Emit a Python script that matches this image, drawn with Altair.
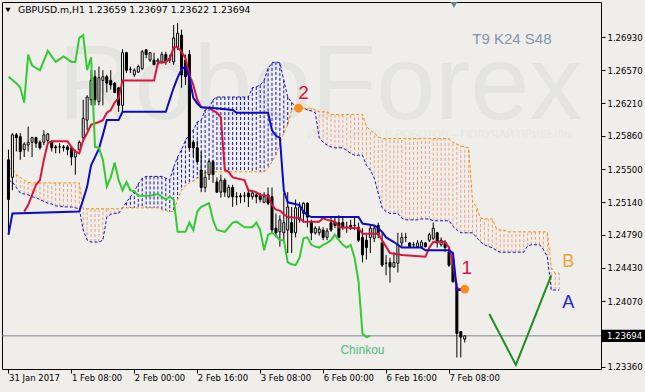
import altair as alt
import pandas as pd

BG = "#EFEEEA"

# ---------------- axis texts ----------------
y_ticks = [1.26930, 1.26570, 1.26210, 1.25860, 1.25500, 1.25140, 1.24790, 1.24430, 1.24070, 1.23360]
x_tick_idx = [0, 16, 32, 48, 64, 80, 96, 112]
x_tick_labels = ["31 Jan 2017", "1 Feb 08:00", "2 Feb 00:00", "2 Feb 16:00",
                 "3 Feb 08:00", "6 Feb 00:00", "6 Feb 16:00", "7 Feb 08:00"]
last_price = 1.23694
header = "GBPUSD.m,H1  1.23659 1.23697 1.23622 1.23694"

# ---------------- candles (H1 bars) ----------------
opens = [1.2560, 1.2541, 1.2587, 1.2585, 1.2571, 1.2576, 1.2579, 1.2584, 1.2579, 1.2579,
         1.2581, 1.2580, 1.2574, 1.2574, 1.2574, 1.2574, 1.2573, 1.2563, 1.2571, 1.2584,
         1.2603, 1.2625, 1.2650, 1.2623, 1.2646, 1.2650, 1.2646, 1.2643, 1.2638, 1.2619,
         1.2676, 1.2658, 1.2652, 1.2655, 1.2659, 1.2679, 1.2668, 1.2668, 1.2666, 1.2666,
         1.2674, 1.2668, 1.2666, 1.2682, 1.2695, 1.2668, 1.2674, 1.2579, 1.2573, 1.2549,
         1.2530, 1.2544, 1.2558, 1.2536, 1.2525, 1.2538, 1.2520, 1.2530, 1.2520, 1.2521,
         1.2521, 1.2524, 1.2520, 1.2522, 1.2521, 1.2514, 1.2522, 1.2520, 1.2486, 1.2482,
         1.2481, 1.2484, 1.2492, 1.2481, 1.2495, 1.2502, 1.2513, 1.2492, 1.2481, 1.2481,
         1.2484, 1.2476, 1.2492, 1.2493, 1.2492, 1.2492, 1.2487, 1.2489, 1.2489, 1.2487,
         1.2476, 1.2473, 1.2476, 1.2475, 1.2489, 1.2470, 1.2448, 1.2449, 1.2444, 1.2448,
         1.2470, 1.2476, 1.2470, 1.2468, 1.2466, 1.2466, 1.2470, 1.2473, 1.2475, 1.2481,
         1.2468, 1.2471, 1.2460, 1.2452, 1.2422, 1.2374, 1.23659]
highs = [1.2571, 1.2589, 1.2589, 1.2589, 1.2579, 1.2596, 1.2585, 1.2585, 1.2581, 1.2592,
         1.2589, 1.2581, 1.2576, 1.2578, 1.2576, 1.2576, 1.2574, 1.2571, 1.2581, 1.2625,
         1.2630, 1.2657, 1.2657, 1.2661, 1.2657, 1.2652, 1.2657, 1.2644, 1.2639, 1.2680,
         1.2677, 1.2661, 1.2659, 1.2663, 1.2679, 1.2680, 1.2677, 1.2676, 1.2670, 1.2677,
         1.2677, 1.2674, 1.2706, 1.2708, 1.2701, 1.2674, 1.2679, 1.2581, 1.2581, 1.2569,
         1.2547, 1.2560, 1.2560, 1.2541, 1.2544, 1.2540, 1.2533, 1.2533, 1.2525, 1.2524,
         1.2525, 1.2527, 1.2527, 1.2524, 1.2524, 1.2525, 1.2530, 1.2530, 1.2502, 1.2500,
         1.2524, 1.2525, 1.2509, 1.2517, 1.2514, 1.2514, 1.2514, 1.2495, 1.2488, 1.2488,
         1.2487, 1.2486, 1.2497, 1.2498, 1.2500, 1.2497, 1.2493, 1.2495, 1.2497, 1.2492,
         1.2486, 1.2479, 1.2489, 1.2489, 1.2492, 1.2482, 1.2457, 1.2454, 1.2460, 1.2481,
         1.2481, 1.2481, 1.2471, 1.2471, 1.2473, 1.2473, 1.2471, 1.2481, 1.2492, 1.2482,
         1.2476, 1.2473, 1.2466, 1.2454, 1.2427, 1.2374, 1.23697]
lows = [1.2479, 1.2527, 1.2569, 1.2560, 1.2563, 1.2569, 1.2563, 1.2573, 1.2571, 1.2576,
        1.2579, 1.2569, 1.2567, 1.2567, 1.2569, 1.2565, 1.2554, 1.2544, 1.2569, 1.2581,
        1.2592, 1.2619, 1.2619, 1.2619, 1.2619, 1.2633, 1.2636, 1.2632, 1.2612, 1.2612,
        1.2654, 1.2654, 1.2650, 1.2654, 1.2657, 1.2670, 1.2666, 1.2663, 1.2663, 1.2664,
        1.2663, 1.2665, 1.2663, 1.2679, 1.2638, 1.2641, 1.2571, 1.2563, 1.2557, 1.2525,
        1.2525, 1.2538, 1.2535, 1.2524, 1.2519, 1.2520, 1.2519, 1.2509, 1.2511, 1.2513,
        1.2514, 1.2509, 1.2517, 1.2513, 1.2514, 1.2513, 1.2511, 1.2481, 1.2476, 1.2466,
        1.2473, 1.2459, 1.2459, 1.2476, 1.2492, 1.2492, 1.2487, 1.2473, 1.2479, 1.2478,
        1.2473, 1.2473, 1.2482, 1.2486, 1.2475, 1.2484, 1.2481, 1.2484, 1.2484, 1.2471,
        1.2449, 1.2452, 1.2459, 1.2471, 1.2475, 1.2444, 1.2435, 1.2427, 1.2443, 1.2438,
        1.2466, 1.2471, 1.2465, 1.2465, 1.2465, 1.2465, 1.2465, 1.2471, 1.2473, 1.2465,
        1.2466, 1.2460, 1.2444, 1.2427, 1.2346, 1.2346, 1.23622]
closes = [1.2517, 1.2587, 1.2584, 1.2569, 1.2577, 1.2579, 1.2584, 1.2578, 1.2573, 1.2587,
          1.2588, 1.2573, 1.2573, 1.2574, 1.2573, 1.2571, 1.2563, 1.2569, 1.2579, 1.2605,
          1.2628, 1.2646, 1.2625, 1.2649, 1.2650, 1.2643, 1.2641, 1.2633, 1.2619, 1.2676,
          1.2657, 1.2658, 1.2657, 1.2661, 1.2677, 1.2674, 1.2676, 1.2663, 1.2668, 1.2674,
          1.2666, 1.2670, 1.2692, 1.2697, 1.2652, 1.2650, 1.2573, 1.2573, 1.2558, 1.2530,
          1.2541, 1.2558, 1.2544, 1.2525, 1.2538, 1.2525, 1.2530, 1.2520, 1.2520, 1.2520,
          1.2521, 1.2520, 1.2524, 1.2520, 1.2517, 1.2520, 1.2513, 1.2484, 1.2481, 1.2495,
          1.2492, 1.2509, 1.2481, 1.2508, 1.2509, 1.2513, 1.2498, 1.2481, 1.2486, 1.2485,
          1.2476, 1.2483, 1.2484, 1.2489, 1.2476, 1.2487, 1.2487, 1.2486, 1.2489, 1.2473,
          1.2457, 1.2465, 1.2486, 1.2486, 1.2479, 1.2446, 1.2448, 1.2444, 1.2449, 1.2468,
          1.2476, 1.2476, 1.2466, 1.2468, 1.2470, 1.2471, 1.2466, 1.2479, 1.2486, 1.2470,
          1.2473, 1.2465, 1.2446, 1.2428, 1.2372, 1.2368, 1.23694]

# ---------------- Ichimoku lines (bar index, price) ----------------
tenkan_idx = [4, 5, 6, 7, 8, 9, 10, 11, 15, 16, 17, 18, 19, 20, 21, 23, 24, 25, 26, 27, 28, 29,
              37, 38, 40, 41, 42, 43, 44, 45, 46, 47, 48, 49, 51, 53, 54, 55, 56, 57, 60, 61,
              63, 64, 66, 67, 68, 69, 70, 71, 74, 75, 79, 80, 81, 83, 84, 89, 90, 94, 95, 96,
              97, 100, 106, 107, 108, 111, 112, 113, 114, 116]
tenkan_val = [1.2504, 1.2511, 1.2522, 1.2533, 1.2538, 1.2560, 1.2578, 1.2580, 1.2580, 1.2574,
              1.2569, 1.2567, 1.2581, 1.2589, 1.2598, 1.2601, 1.2603, 1.2611, 1.2614, 1.2622,
              1.2627, 1.2646, 1.2646, 1.2665, 1.2666, 1.2669, 1.2682, 1.2682, 1.2677, 1.2670,
              1.2652, 1.2641, 1.2625, 1.2617, 1.2616, 1.2611, 1.2606, 1.2549, 1.2547, 1.2541,
              1.2538, 1.2527, 1.2525, 1.2522, 1.2521, 1.2511, 1.2506, 1.2505, 1.2501, 1.2498,
              1.2497, 1.2493, 1.2493, 1.2497, 1.2495, 1.2493, 1.2487, 1.2486, 1.2480, 1.2480,
              1.2473, 1.2466, 1.2459, 1.2457, 1.2455, 1.2465, 1.2471, 1.2471, 1.2465, 1.2449,
              1.2420, 1.2420]

kijun_idx = [0, 1, 18, 19, 20, 21, 22, 23, 24, 25, 28, 29, 40, 41, 42, 43, 44, 45, 46, 47, 48,
             49, 52, 57, 58, 66, 67, 68, 69, 70, 71, 74, 75, 76, 77, 89, 90, 93, 94, 95, 96, 98,
             100, 105, 106, 112, 113, 114, 116]
kijun_val = [1.2479, 1.2502, 1.2504, 1.2517, 1.2531, 1.2554, 1.2563, 1.2572, 1.2587, 1.2603,
             1.2603, 1.2612, 1.2612, 1.2625, 1.2638, 1.2649, 1.2658, 1.2661, 1.2649, 1.2627,
             1.2621, 1.2617, 1.2616, 1.2614, 1.2611, 1.2611, 1.2592, 1.2586, 1.2584, 1.2527,
             1.2514, 1.2511, 1.2504, 1.2500, 1.2498, 1.2498, 1.2491, 1.2489, 1.2486, 1.2482,
             1.2476, 1.2471, 1.2465, 1.2465, 1.2462, 1.2462, 1.2459, 1.2419, 1.2419]

chikou_idx = [0, 2, 3, 4, 5, 6, 8, 10, 12, 14, 16, 17, 18, 19, 20, 21, 22, 23, 24, 25, 26, 27,
              28, 29, 30, 31, 32, 33, 36, 38, 40, 41, 42, 43, 45, 46, 47, 48, 49, 51, 52, 53,
              55, 57, 58, 60, 62, 63, 64, 65, 66, 67, 68, 69, 70, 71, 72, 73, 74, 75, 76, 77,
              78, 79, 80, 81, 82, 83, 84, 85, 86, 87, 88, 89, 90, 91, 92]
chikou_val = [1.2650, 1.2643, 1.2638, 1.2622, 1.2674, 1.2662, 1.2657, 1.2678, 1.2666, 1.2672,
              1.2666, 1.2666, 1.2692, 1.2695, 1.2657, 1.2671, 1.2574, 1.2573, 1.2560, 1.2531,
              1.2541, 1.2557, 1.2538, 1.2527, 1.2536, 1.2527, 1.2526, 1.2521, 1.2521, 1.2523,
              1.2517, 1.2520, 1.2517, 1.2482, 1.2482, 1.2492, 1.2484, 1.2504, 1.2509, 1.2513,
              1.2495, 1.2484, 1.2482, 1.2492, 1.2493, 1.2487, 1.2487, 1.2492, 1.2484, 1.2462,
              1.2479, 1.2481, 1.2478, 1.2473, 1.2473, 1.2449, 1.2447, 1.2446, 1.2454, 1.2475,
              1.2476, 1.2468, 1.2466, 1.2465, 1.2468, 1.2470, 1.2473, 1.2479, 1.2473, 1.2468,
              1.2465, 1.2468, 1.2454, 1.2428, 1.2372, 1.2368, 1.23694]

# Senkou spans, one value per bar (bars 0..140, shifted 24 bars ahead)
span_a = [
    1.2538, 1.2536, 1.2530, 1.2524, 1.2523, 1.2522, 1.2520, 1.2519, 1.2517, 1.2515,
    1.2513, 1.2512, 1.2510, 1.2510, 1.2509, 1.2509, 1.2509, 1.2508, 1.2507,
    1.2484, 1.2473, 1.2471, 1.2471, 1.2471, 1.2473, 1.2498, 1.2501, 1.2502, 1.2502,
    1.2508, 1.2514, 1.2520, 1.2526, 1.2534, 1.2540, 1.2542, 1.2542, 1.2542, 1.2542,
    1.2542, 1.2540, 1.2538,
    1.2552, 1.2563, 1.2571, 1.2581, 1.2588, 1.2592, 1.2601, 1.2603, 1.2614, 1.2616, 1.2625,
    1.2628, 1.2628, 1.2628, 1.2628, 1.2628, 1.2628, 1.2628, 1.2628, 1.2628,
    1.2638, 1.2639, 1.2641, 1.2646, 1.2659, 1.2665, 1.2666, 1.2665, 1.2646, 1.2628,
    1.2622, 1.2618, 1.2616, 1.2616, 1.2614, 1.2613, 1.2611,
    1.2584, 1.2579, 1.2576, 1.2574, 1.2573, 1.2573, 1.2573, 1.2570, 1.2567, 1.2565,
    1.2565, 1.2565, 1.2554, 1.2549, 1.2540, 1.2524, 1.2508, 1.2504, 1.2502, 1.2502, 1.2502,
    1.2497, 1.2495, 1.2495, 1.2495, 1.2495, 1.2496, 1.2496, 1.2496, 1.2494, 1.2494,
    1.2494, 1.2494, 1.2494,
    1.2488, 1.2484, 1.2481, 1.2481, 1.2481, 1.2481, 1.2476, 1.2471, 1.2468, 1.2466,
    1.2465, 1.2462,
    1.2460, 1.2460, 1.2460, 1.2460, 1.2460, 1.2460, 1.2460,
    1.2467, 1.2468, 1.2468, 1.2468, 1.2463, 1.2455, 1.2419, 1.2419, 1.2419]
span_b = [
    1.2551, 1.2550, 1.2544, 1.2541, 1.2538, 1.2536,
    1.2535, 1.2535, 1.2535, 1.2535, 1.2535, 1.2535, 1.2535, 1.2535, 1.2535, 1.2535,
    1.2535, 1.2535, 1.2535,
    1.2507, 1.2507, 1.2507, 1.2507, 1.2507, 1.2507, 1.2507, 1.2507, 1.2507, 1.2507,
    1.2508, 1.2508, 1.2508, 1.2508, 1.2508, 1.2508, 1.2508, 1.2508, 1.2508, 1.2508,
    1.2506, 1.2505, 1.2504, 1.2504,
    1.2517, 1.2527, 1.2532, 1.2535, 1.2537, 1.2540, 1.2542, 1.2546,
    1.2547, 1.2547, 1.2547, 1.2547, 1.2547, 1.2547, 1.2547, 1.2547, 1.2547, 1.2547,
    1.2547, 1.2547, 1.2547, 1.2547, 1.2547,
    1.2551, 1.2558, 1.2565, 1.2578, 1.2589, 1.2598, 1.2614,
    1.2616, 1.2616, 1.2616, 1.2616, 1.2616,
    1.2614,
    1.2612, 1.2612, 1.2612,
    1.2609, 1.2609, 1.2609, 1.2609, 1.2609, 1.2609, 1.2609, 1.2609, 1.2609,
    1.2596, 1.2592, 1.2589, 1.2585,
    1.2583, 1.2583, 1.2583, 1.2583, 1.2583, 1.2583, 1.2583, 1.2583, 1.2583, 1.2583,
    1.2583, 1.2583, 1.2583, 1.2583, 1.2583, 1.2583, 1.2583, 1.2583,
    1.2579, 1.2577, 1.2575, 1.2574, 1.2573,
    1.2514, 1.2509, 1.2497, 1.2496, 1.2496, 1.2496,
    1.2486, 1.2484, 1.2484,
    1.2482, 1.2482, 1.2482, 1.2482, 1.2482, 1.2482, 1.2482, 1.2482, 1.2482, 1.2482, 1.2482,
    1.2443, 1.2437, 1.2437]

# forecast path (green V)
fc_idx = [122.25, 129, 138]
fc_val = [1.2393, 1.2338, 1.2435]

# annotations: (text, bar index, price)
num_labels = [("2", 75.0, 1.2632), ("1", 116.5, 1.2443)]
dots_idx = [73.75, 116.0]
dots_val = [1.2616, 1.2420]
span_labels = [("B", 142.3, 1.2449, "#E8A53A"), ("A", 142.3, 1.2405, "#2222D6")]

# ---------------- scales / axes ----------------
FONT = "DejaVu Sans"
xscale = alt.Scale(domain=[-0.375, 149.375], nice=False, zero=False)
yscale = alt.Scale(domain=[1.23335, 1.27309], nice=False, zero=False)

label_expr = "{}[indexof({}, datum.value)]".format(
    "[" + ",".join("'%s'" % s for s in x_tick_labels) + "]",
    "[" + ",".join(str(v) for v in x_tick_idx) + "]")

xaxis = alt.Axis(values=x_tick_idx, labelExpr=label_expr, title=None, grid=False, domain=False,
                 tickSize=4, tickColor="black", labelAlign="left", labelBaseline="top",
                 labelPadding=0, labelFont=FONT, labelFontSize=8.5, labelColor="black",
                 labelOverlap=False, labelFlush=False)
yaxis = alt.Axis(values=y_ticks, format=".5f", orient="right", title=None, grid=False,
                 domain=False, tickSize=4, tickColor="black", labelPadding=2,
                 labelFont=FONT, labelFontSize=8.5, labelColor="black",
                 labelOverlap=False, labelFlush=False)


def X(f):
    return alt.X(f, type="quantitative", scale=xscale, axis=xaxis)


def Y(f):
    return alt.Y(f, type="quantitative", scale=yscale, axis=yaxis)


# ---------------- data frames ----------------
candles = pd.DataFrame({"i": list(range(len(opens))), "open": opens, "high": highs,
                        "low": lows, "close": closes})
cloud = pd.DataFrame({"i": list(range(len(span_a))), "a": span_a, "b": span_b})
tenkan = pd.DataFrame({"i": tenkan_idx, "v": tenkan_val})
kijun = pd.DataFrame({"i": kijun_idx, "v": kijun_val})
chikou = pd.DataFrame({"i": chikou_idx, "v": chikou_val})
fc = pd.DataFrame({"i": fc_idx, "v": fc_val})
dots = pd.DataFrame({"i": dots_idx, "v": dots_val})
nums = pd.DataFrame(num_labels, columns=["t", "i", "v"])
abl = pd.DataFrame(span_labels, columns=["t", "i", "v", "c"])

# ---------------- layers ----------------
watermark = alt.Chart(pd.DataFrame({"t": ["RoboForex"]})).mark_text(
    font="Liberation Sans", fontSize=106,
    color="#E4E4E1", align="left", baseline="alphabetic").encode(
    text="t:N", x=alt.value(56), y=alt.value(117))
slogan = alt.Chart(pd.DataFrame({"t": ["ИНВЕСТИРУЙ В РОБОТОВ – ПОЛУЧАЙ ПРИБЫЛЬ"]})).mark_text(
    font="Liberation Sans", fontSize=11, color="#E7E7E3", align="left",
    baseline="alphabetic").encode(text="t:N", x=alt.value(305), y=alt.value(136))

hatch = alt.Chart(cloud).transform_calculate(
    side="datum.a > datum.b ? 'A' : 'B'").mark_rule(
    strokeDash=[3, 2], strokeWidth=1).encode(
    x=X("i"), y=Y("a"), y2="b:Q",
    color=alt.Color("side:N", scale=alt.Scale(domain=["A", "B"], range=["#1010D0", "#F2A07C"]),
                    legend=None))
line_a = alt.Chart(cloud).mark_line(strokeDash=[3, 2], strokeWidth=1, color="#1010D0").encode(
    x=X("i"), y=Y("a"))
line_b = alt.Chart(cloud).mark_line(strokeDash=[3, 2], strokeWidth=1, color="#FF8C00").encode(
    x=X("i"), y=Y("b"))

price_line = alt.Chart(pd.DataFrame({"v": [last_price]})).mark_rule(
    color="#7B8594", strokeWidth=1).encode(y=Y("v"), x=alt.value(0), x2=alt.value(599))

wicks = alt.Chart(candles).mark_rule(color="black", strokeWidth=1).encode(
    x=X("i"), y=Y("low"), y2="high:Q")
bodies = alt.Chart(candles).mark_bar(size=2, stroke="black", strokeWidth=1).encode(
    x=X("i"), y=Y("open"), y2="close:Q",
    fill=alt.condition("datum.close > datum.open", alt.value("white"), alt.value("black")))

tenkan_l = alt.Chart(tenkan).mark_line(color="#DC143C", strokeWidth=2).encode(x=X("i"), y=Y("v"))
kijun_l = alt.Chart(kijun).mark_line(color="#0A0AC8", strokeWidth=2).encode(x=X("i"), y=Y("v"))
chikou_l = alt.Chart(chikou).mark_line(color="#35C935", strokeWidth=2).encode(x=X("i"), y=Y("v"))
fc_l = alt.Chart(fc).mark_line(color="#1E8C1E", strokeWidth=2).encode(x=X("i"), y=Y("v"))

dots_m = alt.Chart(dots).mark_point(filled=True, size=75, color="#FF8C1A", opacity=1).encode(
    x=X("i"), y=Y("v"))
nums_t = alt.Chart(nums).mark_text(font="Liberation Sans", fontSize=19, color="#DC143C").encode(
    x=X("i"), y=Y("v"), text="t:N")
ab_t = alt.Chart(abl).mark_text(font="Liberation Sans", fontSize=18).encode(
    x=X("i"), y=Y("v"), text="t:N", color=alt.Color("c:N", scale=None))
chink_t = alt.Chart(pd.DataFrame({"t": ["Chinkou"], "i": [90.0], "v": [1.2354]})).mark_text(
    font="Liberation Sans", fontSize=12, color="#4DBF7E").encode(x=X("i"), y=Y("v"), text="t:N")
params_t = alt.Chart(pd.DataFrame({"t": ["T9 K24 S48"], "i": [128.0], "v": [1.2691]})).mark_text(
    font="Liberation Sans", fontSize=15, color="#8494AC").encode(x=X("i"), y=Y("v"), text="t:N")

shift_mark = alt.Chart(pd.DataFrame({"i": [113.25]})).mark_point(
    shape="triangle-down", filled=True, size=45, color="#6F7F90", opacity=1).encode(
    x=X("i"), y=alt.value(3))

box = alt.Chart(pd.DataFrame({"v1": [last_price + 0.00066],
                              "v2": [last_price - 0.00066]})).mark_rect(color="black").encode(
    y=Y("v1"), y2="v2:Q", x=alt.value(600), x2=alt.value(643))
box_t = alt.Chart(pd.DataFrame({"v": [last_price], "t": ["1.23694"]})).mark_text(
    font=FONT, fontSize=8.5, color="white", align="left", baseline="middle").encode(
    y=Y("v"), x=alt.value(605), text="t:N")

head_tri = alt.Chart(pd.DataFrame({"t": [""]})).mark_point(
    shape="triangle-down", filled=True, size=28, color="black", opacity=1).encode(
    x=alt.value(6), y=alt.value(8))
head_t = alt.Chart(pd.DataFrame({"t": [header]})).mark_text(
    font=FONT, fontSize=9.3, color="black", align="left", baseline="middle").encode(
    text="t:N", x=alt.value(16), y=alt.value(8))

chart = alt.layer(
    watermark, slogan, hatch, line_a, line_b, price_line, wicks, bodies,
    tenkan_l, kijun_l, chikou_l, fc_l, dots_m, nums_t, ab_t, chink_t, params_t,
    shift_mark, box, box_t, head_tri, head_t
).properties(
    width=599, height=367,
    autosize=alt.AutoSizeParams(type="none"),
    padding={"left": 2, "top": 2, "right": 44, "bottom": 23},
    background=BG,
).configure_view(stroke="black", strokeWidth=1, fill=BG)

chart.save("out.html", embed_options={"renderer": "svg", "actions": False})
